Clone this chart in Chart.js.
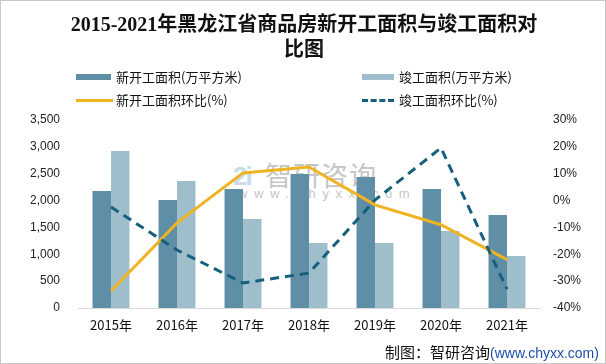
<!DOCTYPE html>
<html>
<head>
<meta charset="utf-8">
<script src="https://cdn.jsdelivr.net/npm/chart.js@4"></script>
<style>
  html, body { margin:0; padding:0; background:#fff; }
  #wrap { position:relative; width:606px; height:364px; box-sizing:border-box; border:1px solid #c8c8c8; overflow:hidden; font-family:"Noto Sans CJK SC", sans-serif; }
  #title { position:absolute; left:0; top:11px; width:606px; text-align:center; font-family:"Liberation Serif","Noto Sans CJK SC",serif; font-weight:bold; font-size:20px; line-height:25px; color:#111; }
  .lg { position:absolute; font-size:13px; color:#111; line-height:16px; white-space:nowrap; }
  .lg i { position:absolute; top:50%; left:-40px; }
  #icon { position:absolute; left:232px; top:160px; font:bold 26px 'Liberation Sans'; color:#c9dcea; letter-spacing:-2px; }
  #mark { position:absolute; left:264px; top:154px; color:#c6c6c6; font-size:27px; letter-spacing:1px; white-space:nowrap; }
  #url { position:absolute; left:237px; top:185px; color:#c6c6c6; font:13px 'Liberation Sans'; letter-spacing:6.6px; white-space:nowrap; }
  #foot { position:absolute; left:384px; top:340px; font-size:15px; color:#111; white-space:nowrap; }
  #foot span { color:#1f4ea8; font-family:"Liberation Sans",sans-serif; font-size:14px; }
  canvas { position:absolute; left:0; top:0; }
</style>
</head>
<body>
<div id="wrap">
  <div id="icon">2i</div>
  <div id="mark">智研咨询</div>
  <div id="url">www.chyxx.com</div>
  <canvas id="c" width="604" height="362"></canvas>
  <div id="title">2015-2021年黑龙江省商品房新开工面积与竣工面积对<br>比图</div>
  <div class="lg" style="left:115px;top:68px"><i style="width:35px;height:6px;margin-top:-3px;background:#5f8fa6"></i>新开工面积(万平方米)</div>
  <div class="lg" style="left:398px;top:68px"><i style="left:-37px;width:32px;height:6px;margin-top:-3px;background:#9fbecb"></i>竣工面积(万平方米)</div>
  <div class="lg" style="left:115px;top:91px"><i style="width:37px;height:3px;margin-top:-1px;background:#f0b323"></i>新开工面积环比(%)</div>
  <div class="lg" style="left:398px;top:91px"><i style="left:-37px;width:32px;height:0;margin-top:-1px;border-top:3px dashed #17607d"></i>竣工面积环比(%)</div>
  <div id="foot">制图：智研咨询<span>(www.chyxx.com)</span></div>
</div>
<script>
// values
const years = ['2015年','2016年','2017年','2018年','2019年','2020年','2021年'];
const newStartArea = [2180, 2010, 2215, 2495, 2440, 2215, 1730];
const completedArea = [2925, 2365, 1655, 1210, 1210, 1435, 970];
const newStartYoY = [-33.7, -8.3, 10.3, 12.5, -1.6, -9.0, -22.0];
const completedYoY = [-2.4, -18.4, -30.7, -27.0, 0.2, 19.6, -33.0];

const tickFont = { family:'Liberation Sans', size:12 };

new Chart(document.getElementById('c').getContext('2d'), {
  type:'bar',
  data:{
    labels: years,
    datasets:[
      { type:'line', label:'新开工面积环比(%)', data:newStartYoY, yAxisID:'y2', borderColor:'#f0b323', borderWidth:3, pointRadius:0, tension:0, order:1 },
      { type:'line', label:'竣工面积环比(%)', data:completedYoY, yAxisID:'y2', borderColor:'#17607d', borderWidth:3, borderDash:[9,6], pointRadius:0, tension:0, order:0 },
      { label:'新开工面积(万平方米)', data:newStartArea, yAxisID:'y', backgroundColor:'#5f8fa6', order:2 },
      { label:'竣工面积(万平方米)', data:completedArea, yAxisID:'y', backgroundColor:'#9fbecb', order:2 }
    ]
  },
  options:{
    responsive:false,
    animation:false,
    layout:{ padding:{ top:119, left:0, right:0, bottom:0 } },
    datasets:{ bar:{ barPercentage:1, categoryPercentage:0.56 } },
    plugins:{ legend:{ display:false }, tooltip:{ enabled:false } },
    scales:{
      x:{
        grid:{ display:false, drawTicks:false },
        border:{ display:true, color:'#d9d9d9', width:1 },
        ticks:{ color:'#111', font:{ family:'Noto Sans CJK SC', size:13 }, padding:9 },
        afterFit: s => { s.height = 362 - 307; }
      },
      y:{
        position:'left', min:0, max:3500,
        grid:{ display:false, drawTicks:false },
        border:{ display:false },
        ticks:{ stepSize:500, color:'#222', font:tickFont, padding:18, callback: v => v.toLocaleString('en-US') },
        afterFit: s => { s.width = 77; }
      },
      y2:{
        position:'right', min:-40, max:30,
        grid:{ display:false, drawTicks:false },
        border:{ display:false },
        ticks:{ stepSize:10, color:'#222', font:tickFont, padding:13, callback: v => v + '%' },
        afterFit: s => { s.width = 604 - 539; }
      }
    }
  }
});
</script>
</body>
</html>
